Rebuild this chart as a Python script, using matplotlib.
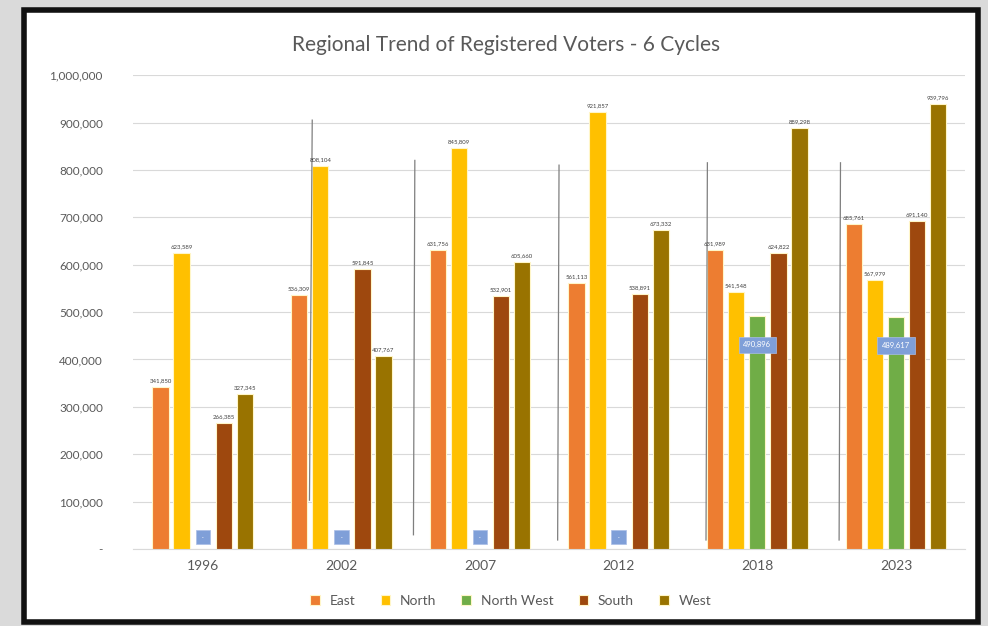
import numpy as np
import matplotlib.pyplot as plt
from matplotlib.patches import Rectangle

plt.rcParams["font.family"] = ["Lato", "DejaVu Sans"]

# Registered voters per region, per election cycle
years = ["1996", "2002", "2007", "2012", "2018", "2023"]
regions = ["East", "North", "North West", "South", "West"]
east = [341850, 536309, 631756, 561113, 631989, 685761]
north = [623589, 808104, 845809, 921857, 541548, 567979]
north_west = [0, 0, 0, 0, 490896, 489617]
south = [266385, 591845, 532901, 538891, 624822, 691140]
west = [327345, 407767, 605660, 673332, 889298, 939796]

colors = ["#ED7D31", "#FFC000", "#70AD47", "#9E480E", "#997300"]
series = [east, north, north_west, south, west]

fig = plt.figure(figsize=(9.88, 6.26), dpi=100, facecolor="#DADADA")

# white chart panel with heavy black frame, kept behind the axes
panel = Rectangle((0.024, 0.006), 0.966, 0.978, transform=fig.transFigure,
                  facecolor="white", edgecolor="#111111", linewidth=4, zorder=-5)
fig.patches.append(panel)

ax = fig.add_axes([0.135, 0.123, 0.842, 0.757])
ax.set_facecolor("white")

x = np.arange(len(years))
step = 0.152
width = 0.118
for i, (name, vals, col) in enumerate(zip(regions, series, colors)):
    pos = x + (i - 2) * step
    ax.bar(pos, vals, width, color=col, edgecolor="#FFF6C8",
           linewidth=0.8, label=name, zorder=3)
    for px, v in zip(pos, vals):
        if name == "North West":
            # the North West labels sit in small blue boxes
            if v == 0:
                ax.text(px, 25000, " - ", ha="center", va="center", fontsize=4.5,
                        color="white", zorder=5,
                        bbox=dict(boxstyle="square,pad=0.7", fc="#7F9FD8",
                                  ec="#A9BDE6", lw=0.5))
            else:
                ax.text(px, v - 60000, f"{v:,}", ha="center", va="center",
                        fontsize=5.5, color="white", zorder=5,
                        bbox=dict(boxstyle="square,pad=0.6", fc="#7F9FD8",
                                  ec="#A9BDE6", lw=0.5))
        else:
            ax.text(px, v + 8000, f"{v:,}", ha="center", va="bottom",
                    fontsize=4.3, color="#404040", zorder=5)

# stray divider strokes drawn between the cycle groups
dividers = [(0.79, 0.77, 905000, 103000), (1.53, 1.52, 820000, 30000),
            (2.57, 2.56, 810000, 19000), (3.64, 3.63, 815000, 19000),
            (4.60, 4.59, 815000, 19000)]
for xa, xb, ya, yb in dividers:
    ax.plot([xa, xb], [ya, yb], color="#7F7F7F", lw=0.9, zorder=4)

ax.set_xlim(-0.5, len(years) - 0.5)
ax.set_ylim(0, 1000000)
ax.set_xticks(x)
ax.set_xticklabels(years, fontsize=10, color="#595959")
yt = np.arange(0, 1000001, 100000)
ax.set_yticks(yt)
ax.set_yticklabels(["-"] + [f"{v:,}" for v in yt[1:]], fontsize=8.5, color="#595959")
ax.tick_params(axis="y", length=0, pad=22)
ax.tick_params(axis="x", length=0, pad=8)
ax.yaxis.grid(True, color="#D9D9D9", lw=0.8, zorder=0)
for s in ["top", "right", "left"]:
    ax.spines[s].set_visible(False)
ax.spines["bottom"].set_color("#D9D9D9")

fig.text(0.512, 0.928, "Regional Trend of Registered Voters - 6 Cycles",
         ha="center", va="center", fontsize=15, color="#595959")

handles, labels = ax.get_legend_handles_labels()
fig.legend(handles, labels, loc="center", bbox_to_anchor=(0.517, 0.04), ncol=5,
           frameon=False, fontsize=10, labelcolor="#595959", handlelength=0.7,
           handleheight=0.7, columnspacing=1.8, handletextpad=0.7)

fig.savefig("out.png", dpi=100, facecolor=fig.get_facecolor())
